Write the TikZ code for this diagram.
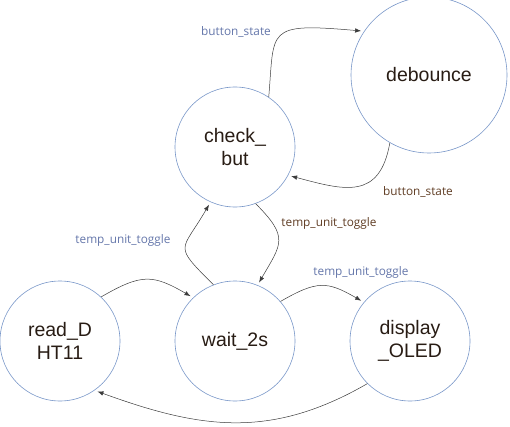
\documentclass[tikz,border=0pt]{standalone}
\usepackage{fontspec}
\setmainfont{Liberation Sans}
\newfontfamily\labelfont{Open Sans}
\usepackage{tikz}
\usetikzlibrary{arrows.meta}

\definecolor{zustandrand}{RGB}{120,150,200}
\definecolor{zustandtext}{RGB}{40,28,20}
\definecolor{pfeilfarbe}{RGB}{60,60,60}
\definecolor{beschrblau}{RGB}{100,118,170}
\definecolor{beschrbraun}{RGB}{95,60,35}

\begin{document}
\begin{tikzpicture}[zustand/.style={draw=zustandrand, circle, line width=0.6pt, minimum size=#1, inner sep=0pt,
				text=zustandtext, align=center, font=\fontsize{19.5}{23}\selectfont},
				zustand/.default=120pt,
				x=1pt, y=1pt,
				>={Latex[length=6pt,width=4.5pt]},   %Voreinstellung für Pfeilspitzen
				uebergang/.style={->, draw=pfeilfarbe, line width=0.5pt, shorten >=3pt},
				blau/.style={text=beschrblau, font=\labelfont\fontsize{11.8}{13}\selectfont},
				braun/.style={text=beschrbraun, font=\labelfont\fontsize{11.8}{13}\selectfont}]
				%Bildbereich
				\useasboundingbox (0,0) rectangle (510,426);
				% Zustaende zeichnen
				\node[zustand=156pt] (debounce) at (429,351) {debounce};
				\node[zustand] (check) at (235,279) {check\_\\but};
				\node[zustand] (read) at (60,85) {read\_D\\HT11};
				\node[zustand] (wait) at (235,85) {wait\_2s};
				\node[zustand] (display) at (410,85) {display\\\_OLED};
				% Uebergaenge zeichnen
				\draw[uebergang] (check.56) to[out=85, in=175, out looseness=1.5, in looseness=2.2] (debounce.146);
				\draw[uebergang] (debounce.240) to[out=260, in=-15, looseness=1.4] (check.332);
				\draw[uebergang] (check.290) to[out=-45, in=60, looseness=1.5] (wait.68);
				\draw[uebergang] (wait.111) to[out=135, in=240, looseness=1.8] (check.246);
				\draw[uebergang] (read.47) to[out=30, in=150, looseness=1.3] (wait.134);
				\draw[uebergang] (wait.41) to[out=30, in=150, looseness=1.3] (display.140);
				\draw[uebergang] (display.225) to[out=210, in=-20, looseness=1.05] (read.305);
				% Beschriftung
				\node[blau] (bsOben) at (236,394) {button\_state};
				\node[braun] (bsUnten) at (418,234) {button\_state};
				\node[braun] (tutMitte) at (329,203) {temp\_unit\_toggle};
				\node[blau] (tutLinks) at (123,186) {temp\_unit\_toggle};
				\node[blau] (tutRechts) at (361,154) {temp\_unit\_toggle};
			\end{tikzpicture}
\end{document}
